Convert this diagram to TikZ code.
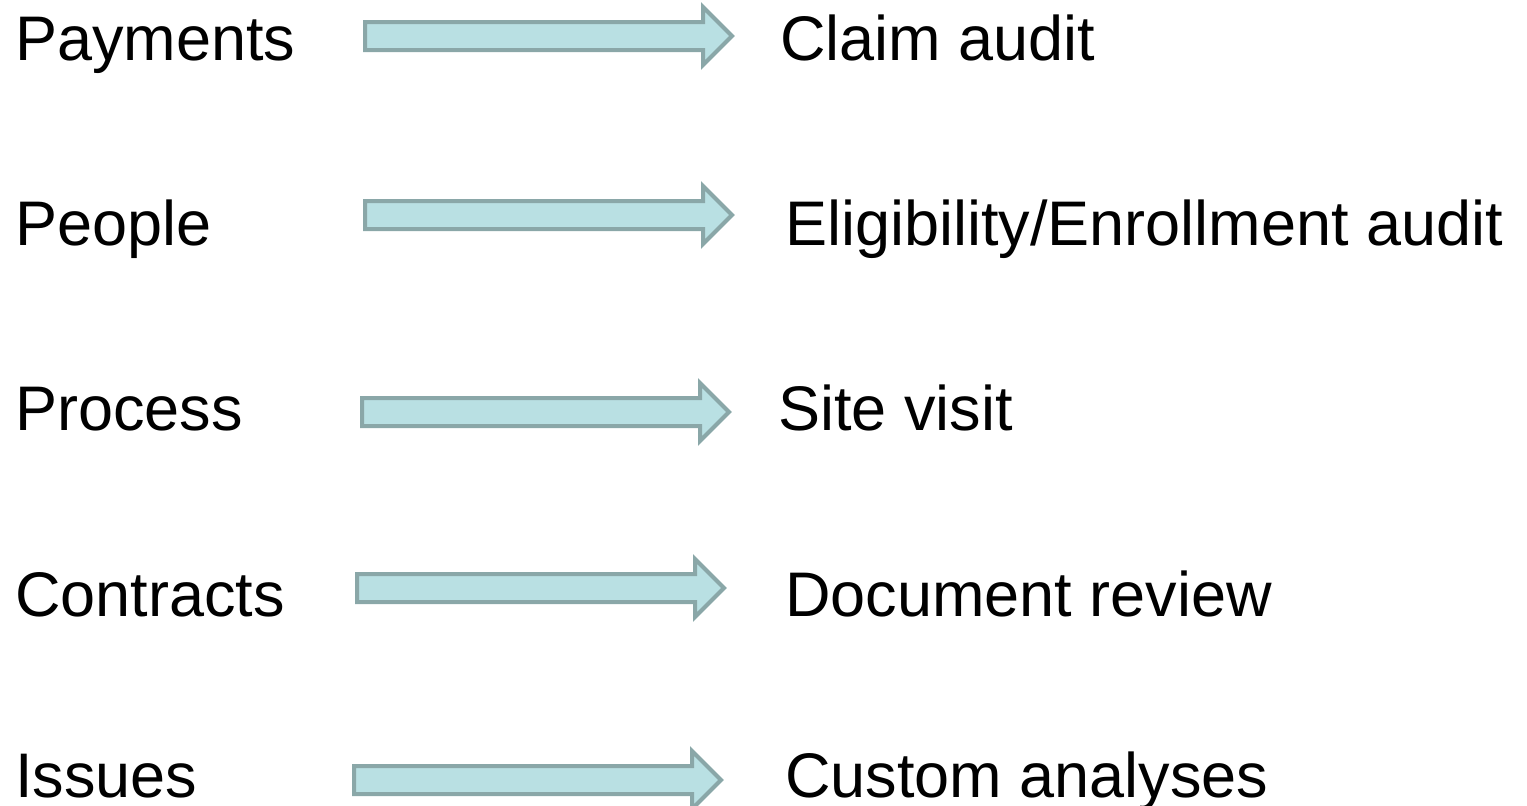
\documentclass[tikz,border=0pt]{standalone}
\usepackage{fontspec}
\setmainfont{Liberation Sans}
\usetikzlibrary{shapes.arrows}
\definecolor{arrowfill}{HTML}{B9E0E3}
\definecolor{arrowline}{HTML}{8AA7A8}

\begin{document}
\begin{tikzpicture}[x=1pt,y=-1pt]
\tikzstyle{label}=[
  anchor=base west,
  inner sep=0pt,
  font=\fontsize{63}{63}\selectfont ]
\tikzstyle{blockarrow}=[
  single arrow,
  single arrow head extend=15pt,
  inner xsep=0pt, inner ysep=12pt,
  minimum height=367pt,
  anchor=west,
  fill=arrowfill, draw=arrowline, line width=4pt ]
\useasboundingbox (0,0) rectangle (1527,806);
\node[label] (payments) at (15,60) {Payments};
\node[label] (people)   at (15,245) {People};
\node[label] (process)  at (15,430) {Process};
\node[label] (contracts) at (15,616) {Contracts};
\node[label] (issues)   at (15,797) {Issues};
\node[label] (claim)    at (780,60) {Claim audit};
\node[label] (elig)     at (785,245) {Eligibility/Enrollment audit};
\node[label] (site)     at (778,430) {Site visit};
\node[label] (document) at (785,616) {Document review};
\node[label] (custom)   at (785,797) {Custom analyses};
\node[blockarrow] (a1) at (363,36) {};
\node[blockarrow] (a2) at (363,215) {};
\node[blockarrow] (a3) at (360,412) {};
\node[blockarrow] (a4) at (355,588) {};
\node[blockarrow] (a5) at (352,780) {};
\end{tikzpicture}
\end{document}
